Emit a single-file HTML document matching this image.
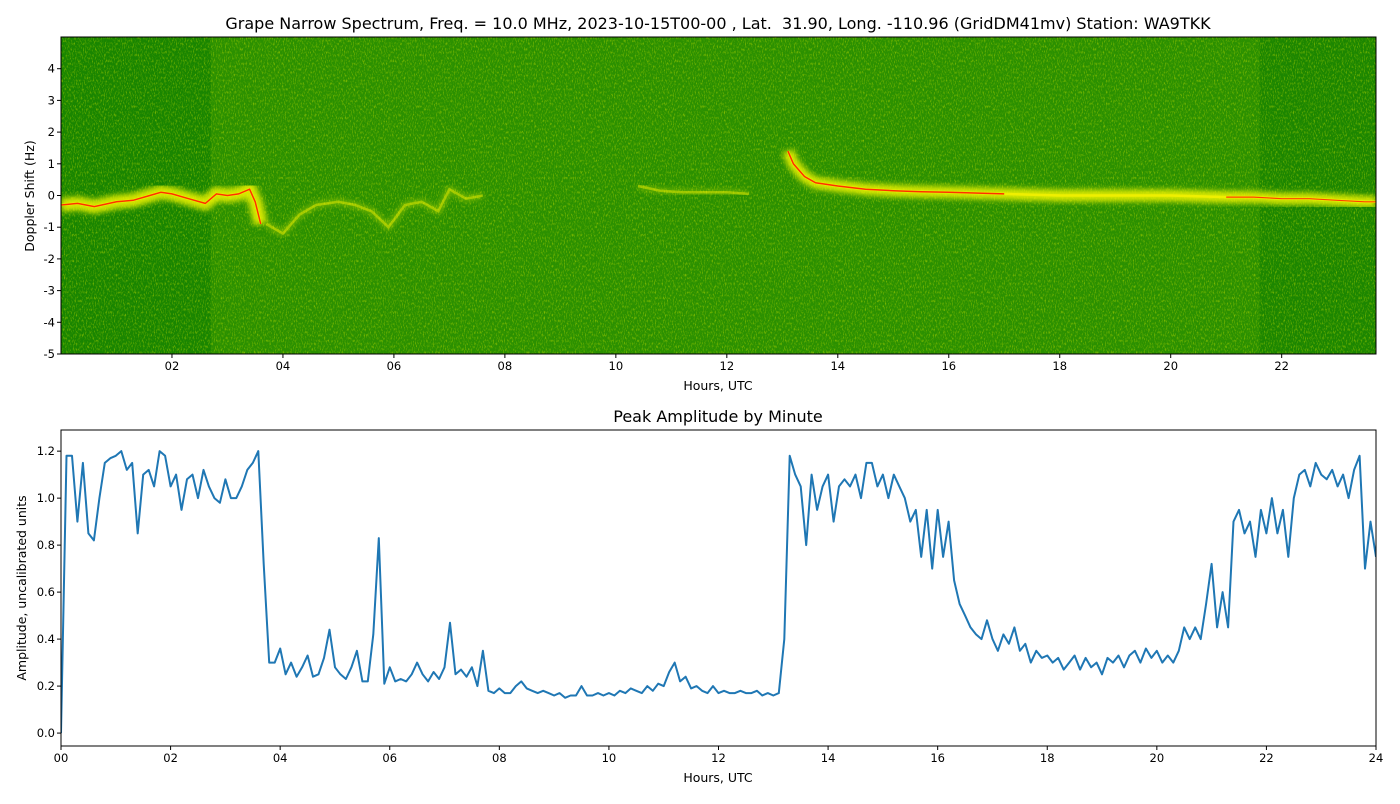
<!DOCTYPE html>
<html><head><meta charset="utf-8"><style>
body{margin:0;background:#fff;font-family:"DejaVu Sans","Liberation Sans",sans-serif;}
svg text{font-family:"DejaVu Sans","Liberation Sans",sans-serif;fill:#000;white-space:pre;}
</style></head><body>
<svg id="c" width="1400" height="800" xmlns="http://www.w3.org/2000/svg">
<defs>
<filter id="noise" x="0" y="0" width="100%" height="100%">
<feTurbulence type="fractalNoise" baseFrequency="0.9 0.35" numOctaves="2" seed="3" result="t"/>
<feColorMatrix in="t" type="matrix" values="0 0 0 0 0.75  0 0 0 0 0.85  0 0 0 0 0  0 0 0 1.4 -0.7"/>
</filter>
<filter id="glow"><feGaussianBlur stdDeviation="3"/></filter>
<clipPath id="topclip"><rect x="61" y="37" width="1315" height="317"/></clipPath>
<clipPath id="botclip"><rect x="61" y="430" width="1315" height="316"/></clipPath>
</defs>
<g id="topPanel"></g>
<g id="botPanel"></g>
</svg>
<script>
const NS='http://www.w3.org/2000/svg';
// Spectrogram doppler trace data
const strongHours=[0,0.3,0.6,1.0,1.3,1.6,1.8,2.0,2.3,2.6,2.8,3.0,3.2,3.4,3.5,3.6];
const strongHz=[-0.3,-0.25,-0.35,-0.2,-0.15,0.0,0.1,0.05,-0.1,-0.25,0.05,0.0,0.05,0.2,-0.2,-0.9];
const lateHours=[13.1,13.2,13.4,13.6,14.0,14.5,15.0,15.5,16.0,17.0,18.0,19.0,20.0,21.0,21.5,22.0,22.5,23.0,23.5,23.7];
const lateHz=[1.4,1.0,0.6,0.4,0.3,0.2,0.15,0.12,0.1,0.05,0.0,0.0,0.0,-0.05,-0.05,-0.1,-0.1,-0.15,-0.2,-0.2];
const faintHours=[3.7,4.0,4.3,4.6,5.0,5.3,5.6,5.9,6.2,6.5,6.8,7.0,7.3,7.6];
const faintHz=[-0.9,-1.2,-0.6,-0.3,-0.2,-0.3,-0.5,-1.0,-0.3,-0.2,-0.5,0.2,-0.1,0.0];
const midHours=[10.4,10.8,11.2,11.6,12.0,12.4];
const midHz=[0.3,0.15,0.1,0.1,0.1,0.05];
const topXTicks=['02','04','06','08','10','12','14','16','18','20','22'];
const topYTicks=[-5,-4,-3,-2,-1,0,1,2,3,4];
// Amplitude by minute (0.1 h steps, 0..24 h)
const ampValues=[0.0,1.18,1.18,0.9,1.15,0.85,0.82,1.0,1.15,1.17,
1.18,1.2,1.12,1.15,0.85,1.1,1.12,1.05,1.2,1.18,
1.05,1.1,0.95,1.08,1.1,1.0,1.12,1.05,1.0,0.98,
1.08,1.0,1.0,1.05,1.12,1.15,1.2,0.72,0.3,0.3,
0.36,0.25,0.3,0.24,0.28,0.33,0.24,0.25,0.32,0.44,
0.28,0.25,0.23,0.28,0.35,0.22,0.22,0.42,0.83,0.21,
0.28,0.22,0.23,0.22,0.25,0.3,0.25,0.22,0.26,0.23,
0.28,0.47,0.25,0.27,0.24,0.28,0.2,0.35,0.18,0.17,
0.19,0.17,0.17,0.2,0.22,0.19,0.18,0.17,0.18,0.17,
0.16,0.17,0.15,0.16,0.16,0.2,0.16,0.16,0.17,0.16,
0.17,0.16,0.18,0.17,0.19,0.18,0.17,0.2,0.18,0.21,
0.2,0.26,0.3,0.22,0.24,0.19,0.2,0.18,0.17,0.2,
0.17,0.18,0.17,0.17,0.18,0.17,0.17,0.18,0.16,0.17,
0.16,0.17,0.4,1.18,1.1,1.05,0.8,1.1,0.95,1.05,
1.1,0.9,1.05,1.08,1.05,1.1,1.0,1.15,1.15,1.05,
1.1,1.0,1.1,1.05,1.0,0.9,0.95,0.75,0.95,0.7,
0.95,0.75,0.9,0.65,0.55,0.5,0.45,0.42,0.4,0.48,
0.4,0.35,0.42,0.38,0.45,0.35,0.38,0.3,0.35,0.32,
0.33,0.3,0.32,0.27,0.3,0.33,0.27,0.32,0.28,0.3,
0.25,0.32,0.3,0.33,0.28,0.33,0.35,0.3,0.36,0.32,
0.35,0.3,0.33,0.3,0.35,0.45,0.4,0.45,0.4,0.55,
0.72,0.45,0.6,0.45,0.9,0.95,0.85,0.9,0.75,0.95,
0.85,1.0,0.85,0.95,0.75,1.0,1.1,1.12,1.05,1.15,
1.1,1.08,1.12,1.05,1.1,1.0,1.12,1.18,0.7,0.9,0.75];
const ampStep=0.1;
const botXTicks=['00','02','04','06','08','10','12','14','16','18','20','22','24'];
const botYTicks=['0.0','0.2','0.4','0.6','0.8','1.0','1.2'];

function el(tag,attrs,parent){const e=document.createElementNS(NS,tag);for(const k in attrs)e.setAttribute(k,attrs[k]);parent.appendChild(e);return e;}
function txt(s,attrs,parent){const e=el('text',attrs,parent);e.textContent=s;return e;}

const T={x0:61,x1:1376,y0:37,y1:354,hmin:0,hmax:23.7,dmin:-5,dmax:5};
const tx=h=>T.x0+(h-T.hmin)/(T.hmax-T.hmin)*(T.x1-T.x0);
const ty=d=>T.y1-(d-T.dmin)/(T.dmax-T.dmin)*(T.y1-T.y0);
const topG=document.getElementById('topPanel');
const g1=el('g',{'clip-path':'url(#topclip)'},topG);


el('rect',{x:61,y:37,width:1315,height:317,fill:'#2b9000'},g1);
el('rect',{x:61,y:37,width:tx(2.7)-61,height:317,fill:'#138000',opacity:0.7},g1);
el('rect',{x:tx(21.6),y:37,width:1376-tx(21.6),height:317,fill:'#138000',opacity:0.6},g1);
el('rect',{x:61,y:37,width:1315,height:317,filter:'url(#noise)'},g1);
function poly(H,D){return H.map((h,i)=>tx(h).toFixed(1)+','+ty(D[i]).toFixed(1)).join(' ');}
[[strongHours,strongHz,14,0.9],[lateHours,lateHz,12,0.9],[faintHours,faintHz,5,0.45],[midHours,midHz,4,0.45]].forEach(([H,D,w,o])=>{
  el('polyline',{points:poly(H,D),fill:'none',stroke:'#e8f000','stroke-width':w,opacity:o,filter:'url(#glow)'},g1);
  el('polyline',{points:poly(H,D),fill:'none',stroke:'#f2f000','stroke-width':2.5,opacity:o},g1);
});
const r1=el('polyline',{points:poly(strongHours,strongHz),fill:'none',stroke:'#ff3000','stroke-width':1.5},g1);

const r2=el('polyline',{points:poly(lateHours.slice(0,10),lateHz.slice(0,10)),fill:'none',stroke:'#ff3000','stroke-width':1.5},g1);

el('polyline',{points:poly(lateHours.slice(13),lateHz.slice(13)),fill:'none',stroke:'#ff4000','stroke-width':1.2},g1);
el('rect',{x:61,y:37,width:1315,height:317,fill:'none',stroke:'#000','stroke-width':1},topG);
topXTicks.forEach(s=>{const x=tx(+s);el('line',{x1:x,x2:x,y1:354,y2:358,stroke:'#000'},topG);txt(s,{x:x,y:370,'font-size':11.5,'text-anchor':'middle'},topG);});
topYTicks.forEach(v=>{const y=ty(v);el('line',{x1:57,x2:61,y1:y,y2:y,stroke:'#000'},topG);txt(String(v),{x:55,y:y+4,'font-size':11.5,'text-anchor':'end'},topG);});
const t1=txt('Grape Narrow Spectrum, Freq. = 10.0 MHz, 2023-10-15T00-00 , Lat.  31.90, Long. -110.96 (GridDM41mv) Station: WA9TKK',{x:718,y:29,'font-size':16,'text-anchor':'middle'},topG);

const xl1=txt('Hours, UTC',{x:718,y:390,'font-size':12.5,'text-anchor':'middle'},topG);

const yl1=txt('Doppler Shift (Hz)',{x:0,y:0,'font-size':12.5,'text-anchor':'middle',transform:'translate(34,196) rotate(-90)'},topG);


const B={x0:61,x1:1376,y0:430,y1:746,hmin:0,hmax:24,vmin:-0.055,vmax:1.29};
const bx=h=>B.x0+(h-B.hmin)/(B.hmax-B.hmin)*(B.x1-B.x0);
const by=v=>B.y1-(v-B.vmin)/(B.vmax-B.vmin)*(B.y1-B.y0);
const botG=document.getElementById('botPanel');
const g2=el('g',{'clip-path':'url(#botclip)'},botG);
const pts=ampValues.map((v,i)=>bx(i*ampStep).toFixed(1)+','+by(v).toFixed(1)).join(' ');
const line=el('polyline',{points:pts,fill:'none',stroke:'#1f77b4','stroke-width':2,'stroke-linejoin':'round'},g2);


el('rect',{x:61,y:430,width:1315,height:316,fill:'none',stroke:'#000','stroke-width':1},botG);
botXTicks.forEach(s=>{const x=bx(+s);el('line',{x1:x,x2:x,y1:746,y2:750,stroke:'#000'},botG);txt(s,{x:x,y:762,'font-size':11.5,'text-anchor':'middle'},botG);});
botYTicks.forEach(s=>{const y=by(+s);el('line',{x1:57,x2:61,y1:y,y2:y,stroke:'#000'},botG);txt(s,{x:55,y:y+4,'font-size':11.5,'text-anchor':'end'},botG);});
const t2=txt('Peak Amplitude by Minute',{x:718,y:422,'font-size':16,'text-anchor':'middle'},botG);

const xl2=txt('Hours, UTC',{x:718,y:782,'font-size':12.5,'text-anchor':'middle'},botG);

const yl2=txt('Amplitude, uncalibrated units',{x:0,y:0,'font-size':12.5,'text-anchor':'middle',transform:'translate(26,588) rotate(-90)'},botG);

</script>
</body></html>
